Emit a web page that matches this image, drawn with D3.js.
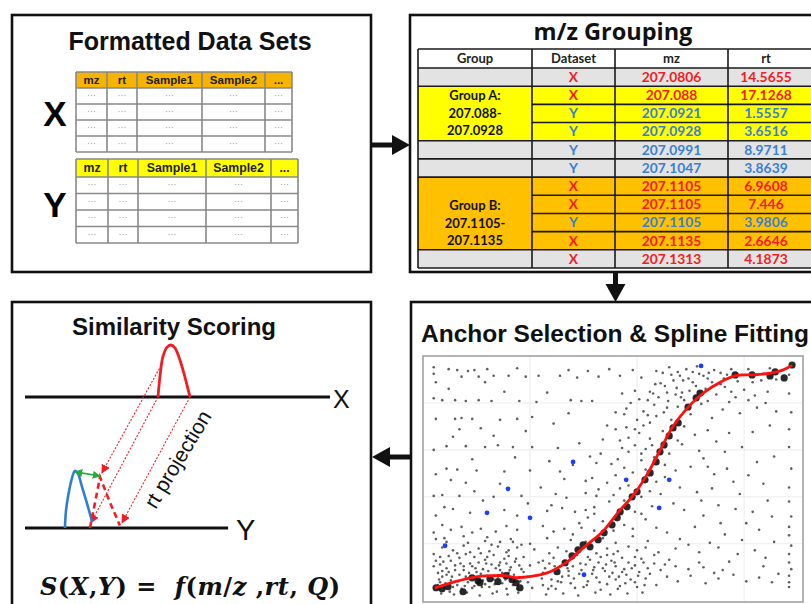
<!DOCTYPE html>
<html>
<head>
<meta charset="utf-8">
<script src="https://cdn.jsdelivr.net/npm/d3@7.9.0/dist/d3.min.js"></script>
<style>
  body { margin: 0; background: #fff; }
  svg { display: block; }
</style>
</head>
<body>
<div id="chart"></div>
<script>
// ---------- data ----------
const fmtColumns = ['mz', 'rt', 'Sample1', 'Sample2', '...'];
const fmtRowCount = 4;

const groupHeaders = ['Group', 'Dataset', 'mz', 'rt'];
const groupDataset = ['X', 'X', 'Y', 'Y', 'Y', 'Y', 'X', 'X', 'Y', 'X', 'X'];
const groupMz = ['207.0806', '207.088', '207.0921', '207.0928', '207.0991', '207.1047',
  '207.1105', '207.1105', '207.1105', '207.1135', '207.1313'];
const groupRt = ['14.5655', '17.1268', '1.5557', '3.6516', '8.9711', '3.8639',
  '6.9608', '7.446', '3.9806', '2.6646', '4.1873'];
const groupBand = ['', 'A', 'A', 'A', '', '', 'B', 'B', 'B', 'B', ''];
const groupALabel = ['Group A:', '207.088-', '207.0928'];
const groupBLabel = ['Group B:', '207.1105-', '207.1135'];

// anchor / spline panel (rt of X vs rt of Y)
const splineKnots = [
  [0.55, 0.3], [1.4, 0.9], [2.4, 1.45], [3.2, 1.6], [3.85, 1.6], [4.35, 1.4], [5.8, 1.9],
  [6.75, 3.1], [7.55, 4.7], [8.35, 6.2], [9.1, 8.3], [9.9, 10.4], [10.5, 12.5], [11.15, 15.3],
  [11.65, 17.4], [12.25, 19.2], [12.85, 20.6], [13.5, 21.7], [14.6, 22.9], [15.5, 23.0],
  [16.3, 23.2], [16.8, 23.5], [17.24, 24.0]
];
const anchorPoints = [
  [0.61, 0.32], [0.89, 0.21], [1.17, 0.43], [1.87, -0.11], [2.29, 1.38], [2.57, 1.06], [3.13, 1.28],
  [3.5, 0.96], [3.88, 1.6], [4.16, 1.17], [4.35, 0.85], [4.53, 0.32], [2.66, 0.85], [6.26, 2.02],
  [6.64, 2.98], [6.96, 3.72], [7.24, 4.36], [7.48, 4.89], [7.8, 4.68], [8.18, 5.43], [8.46, 6.17],
  [8.83, 7.02], [9.07, 7.77], [9.21, 8.4], [9.53, 8.94], [9.77, 10.0], [10.0, 10.53], [10.37, 11.81],
  [10.61, 12.55], [10.89, 13.72], [11.07, 14.79], [11.26, 15.53], [11.5, 16.49], [11.68, 17.34],
  [11.92, 17.87], [12.38, 19.57], [12.76, 20.53], [12.94, 21.06], [14.58, 22.98], [15.37, 22.98],
  [16.21, 22.87], [16.45, 23.3], [16.87, 22.66], [17.24, 24.04]
];
const outlierPoints = [
  [12.99, 23.94], [7.01, 13.72], [3.97, 10.85], [2.99, 8.3], [5.0, 7.77], [9.49, 11.81],
  [11.5, 11.81], [11.03, 8.83], [1.03, 4.79], [7.52, 1.7]
];
const backgroundPoints = [
  [0.5, 23.8], [0.5, 23.1], [0.6, 22.2], [0.5, 20.5], [0.6, 18.3], [0.5, 15.0], [0.6, 12.4], [0.5, 10.1],
  [0.6, 8.0], [0.5, 6.2], [0.6, 5.5], [0.5, 3.9], [0.6, 3.2], [0.5, 2.6], [0.7, 1.9],
  [1.2, 23.6], [1.6, 23.5], [2.1, 23.4], [2.4, 23.5], [3.0, 23.6], [3.3, 22.9], [1.8, 22.8], [2.6, 22.8],
  [4.0, 22.9], [4.8, 22.8], [5.4, 22.9], [4.4, 23.7], [2.9, 22.2],
  [0.9, 20.3], [1.5, 20.3], [2.0, 20.2], [2.6, 20.3], [3.2, 20.2], [4.5, 20.2], [5.3, 20.1], [6.9, 20.3],
  [7.4, 20.2], [7.9, 20.2],
  [1.5, 18.3], [1.8, 18.4], [2.3, 18.3], [3.6, 18.2], [4.4, 18.3], [5.1, 18.5],
  [1.7, 17.2], [3.3, 16.5], [1.1, 15.4], [2.0, 15.4], [2.9, 15.3], [3.5, 15.5], [4.2, 15.3], [5.1, 15.3],
  [6.3, 15.2], [7.3, 15.7],
  [1.1, 13.0], [1.6, 12.9], [2.5, 12.8], [3.8, 12.7], [5.0, 12.8], [6.4, 12.7], [7.0, 13.4],
  [0.9, 10.2], [1.7, 10.1], [2.4, 10.6], [3.3, 10.0], [4.6, 10.1], [6.2, 10.3], [6.7, 9.9], [7.6, 10.4],
  [8.1, 10.1],
  [1.0, 8.9], [1.4, 8.7], [2.2, 8.3], [3.8, 8.6], [4.4, 8.0], [5.8, 8.5], [6.5, 8.8], [7.1, 8.4],
  [7.6, 8.6], [8.0, 8.2], [6.0, 9.1],
  [0.9, 7.0], [1.3, 6.5], [1.8, 6.8], [2.3, 6.2], [2.7, 6.6], [3.4, 6.3], [3.9, 6.9], [4.4, 6.5],
  [5.6, 6.9], [6.1, 6.3], [6.6, 6.6], [7.0, 6.0], [7.4, 6.7], [8.0, 6.4], [1.0, 5.6], [1.9, 5.8],
  [3.0, 5.7], [4.1, 5.5], [5.8, 5.6], [6.9, 5.4],
  [0.9, 4.6], [1.4, 4.3], [1.9, 4.8], [2.2, 4.1], [2.6, 4.5], [3.1, 4.2], [3.5, 4.7], [4.0, 4.3],
  [4.4, 4.6], [5.2, 4.4], [5.9, 4.0], [6.3, 4.6], [6.7, 4.2], [8.1, 4.0], [8.6, 4.5], [9.1, 4.2],
  [9.6, 4.7], [10.0, 4.3], [1.2, 3.7], [1.7, 3.5], [2.4, 3.6], [2.9, 3.3], [3.3, 3.8], [3.8, 3.4],
  [4.7, 3.6], [5.6, 3.2], [6.1, 3.5], [7.8, 3.3], [8.3, 3.6], [8.8, 3.2], [9.3, 3.5], [10.2, 3.4],
  [10.8, 3.8], [11.5, 3.3],
  [0.8, 2.8], [1.1, 2.4], [1.5, 2.7], [1.9, 2.2], [2.3, 2.6], [2.8, 2.3], [3.2, 2.8], [3.6, 2.2],
  [4.1, 2.5], [4.6, 2.3], [5.0, 2.7], [5.7, 2.4], [6.2, 2.2], [7.0, 2.6], [7.4, 2.2], [8.0, 2.5],
  [8.5, 2.1], [9.0, 2.6], [9.4, 2.3], [9.9, 2.7], [10.5, 2.4], [11.1, 2.2], [11.8, 2.6], [12.4, 2.3],
  [13.1, 2.5], [14.0, 2.2],
  [0.9, 1.5], [1.3, 1.1], [1.7, 1.7], [2.1, 0.9], [2.5, 1.3], [2.9, 0.7], [3.3, 1.2], [3.7, 0.8],
  [4.0, 1.9], [4.5, 1.4], [4.9, 0.9], [5.3, 1.6], [5.6, 0.6], [6.0, 1.2], [6.5, 1.5], [6.9, 0.8],
  [7.3, 1.8], [7.7, 1.0], [8.1, 1.4], [8.6, 0.7], [9.0, 1.2], [9.5, 1.7], [9.9, 0.9], [10.4, 1.3],
  [10.9, 0.6], [11.4, 1.5], [11.9, 1.0], [12.5, 1.6], [13.2, 0.8], [13.8, 1.3], [14.5, 1.7], [15.1, 1.0],
  [15.7, 1.4], [16.3, 0.9], [1.4, 0.4], [2.3, 0.3], [3.9, 0.2], [5.1, 0.3], [6.2, 0.2], [7.5, 0.4],
  [8.3, 0.1],
  [0.8, 0.9], [1.0, 0.3], [1.6, 0.6], [2.0, 1.5], [2.7, 1.8], [3.1, 0.4], [3.5, 1.5], [4.2, 0.6],
  [4.7, 2.0], [1.2, 2.0], [2.6, 3.0], [3.9, 2.9], [5.4, 3.0], [6.6, 3.0], [7.2, 3.8], [5.0, 5.0],
  [2.1, 5.1], [3.6, 5.2], [4.6, 4.9], [7.6, 5.2], [8.4, 5.6], [9.0, 5.1], [9.8, 5.8], [10.5, 5.3],
  [10.9, 6.7], [10.4, 7.6], [9.9, 8.4], [9.4, 9.6], [10.7, 9.0], [11.1, 10.3],
  [7.3, 7.2], [7.7, 7.8], [8.0, 8.9], [8.4, 7.4], [8.7, 9.5], [8.2, 10.8], [8.6, 11.5], [9.0, 12.3],
  [8.9, 10.2], [9.4, 13.1], [9.1, 14.0], [9.6, 14.8], [8.8, 13.5], [7.9, 12.0], [8.3, 14.6], [9.8, 12.6],
  [10.2, 13.9], [9.9, 15.5], [10.1, 16.8], [9.5, 17.4], [10.4, 15.1], [10.0, 18.2], [10.6, 17.9],
  [10.3, 19.1], [9.7, 20.0], [10.8, 19.8],
  [10.6, 21.2], [11.0, 20.6], [11.3, 21.8], [11.7, 22.4], [11.2, 23.2], [12.0, 22.9], [12.3, 23.6],
  [12.6, 22.2], [12.9, 23.1], [13.3, 22.6], [13.6, 23.5], [13.9, 22.0], [14.2, 23.0], [14.7, 22.3],
  [15.2, 23.6], [15.8, 22.4], [16.2, 23.7], [10.9, 23.4], [10.2, 22.7], [9.8, 23.5], [9.2, 22.9],
  [8.7, 23.6], [8.2, 22.8], [7.7, 23.4], [7.2, 22.7], [6.8, 23.5], [6.4, 22.9], [12.1, 21.1], [12.8, 20.5],
  [13.2, 21.5], [13.7, 20.9], [14.1, 21.7], [14.6, 20.6], [15.0, 21.4], [15.5, 20.8], [16.1, 21.2],
  [11.9, 19.6], [12.5, 18.8], [13.0, 19.9], [13.5, 18.4], [14.0, 19.3], [14.8, 18.9], [15.6, 19.5],
  [11.6, 18.2], [12.2, 17.5], [12.7, 16.6], [13.3, 17.1], [14.3, 16.8], [12.1, 15.6], [12.9, 14.9],
  [11.3, 13.4], [11.8, 12.8], [12.5, 13.2], [13.6, 12.4], [12.0, 11.0], [12.8, 10.5], [13.5, 10.9],
  [14.5, 11.6], [15.2, 12.3], [15.9, 11.4], [11.7, 9.3], [12.2, 8.6], [13.1, 8.0], [13.8, 9.1],
  [14.6, 8.7], [15.4, 8.4], [16.3, 7.9],
  [11.4, 6.2], [12.0, 5.5], [12.7, 6.8], [13.4, 5.1], [14.1, 6.0], [14.9, 5.4], [15.7, 6.5], [16.4, 5.2],
  [11.8, 4.5], [12.9, 4.1], [13.8, 4.6], [14.7, 3.9], [15.5, 4.3], [16.0, 3.5],
  [17.1, 23.0], [17.1, 21.0], [17.2, 19.0], [17.1, 17.2], [17.1, 15.3], [17.2, 13.0], [17.1, 11.0],
  [17.1, 9.5], [17.2, 7.9], [17.1, 6.8], [17.1, 5.9], [17.2, 4.8], [17.1, 3.9], [17.1, 3.0], [17.2, 2.3],
  [17.1, 1.6], [17.1, 0.9], [17.1, 0.4],
  [0.7, 0.6], [1.1, 1.7], [1.5, 2.2], [1.8, 0.2], [2.2, 2.9], [2.4, 0.5], [2.8, 1.1], [3.0, 3.6],
  [3.4, 2.4], [3.7, 1.9], [4.1, 1.2], [4.3, 3.1], [4.4, 0.2], [1.3, 3.2], [1.6, 4.0], [2.0, 3.9],
  [2.7, 4.0], [3.2, 4.9], [3.9, 4.1], [4.2, 5.2], [1.1, 5.2], [0.8, 3.6], [1.9, 2.6], [2.5, 2.0],
  [3.0, 1.6], [3.6, 3.0], [4.0, 3.7], [4.5, 2.7], [0.9, 2.1], [2.9, 5.3],
  [5.6, 1.9], [5.9, 2.9], [6.3, 1.0], [6.4, 2.6], [6.8, 1.6], [7.1, 0.3], [7.6, 2.8], [7.9, 1.8],
  [8.2, 3.0], [8.4, 2.4], [8.7, 1.5], [8.9, 3.9], [9.2, 0.5], [9.3, 2.0], [9.6, 3.0], [9.7, 1.2],
  [10.1, 2.0], [10.3, 3.0], [10.6, 1.8], [10.8, 2.9], [6.0, 0.5], [6.8, 2.1], [7.7, 3.6], [8.6, 3.8],
  [9.9, 3.6], [10.4, 4.6], [11.0, 4.1], [11.3, 2.8], [9.1, 0.2], [10.0, 0.4],
  [8.9, 6.4], [9.4, 7.0], [9.8, 6.6], [10.2, 8.2], [10.6, 10.6], [10.9, 11.6], [11.3, 12.1], [9.6, 11.2],
  [9.2, 10.9], [10.4, 12.9], [10.8, 14.2], [11.5, 14.6], [11.9, 16.0], [10.6, 16.2], [11.2, 17.0],
  [10.9, 18.6], [11.4, 19.5], [11.8, 20.9], [10.5, 20.3], [9.9, 21.3], [9.3, 21.0], [9.0, 19.0],
  [8.6, 17.6], [8.4, 16.1], [9.2, 16.0], [9.4, 18.8], [10.2, 10.0], [8.1, 13.6], [7.6, 11.7], [7.8, 14.3],
  [11.5, 23.8], [11.9, 23.3], [12.4, 22.6], [12.8, 23.9], [13.1, 22.9], [13.5, 22.2], [13.9, 23.2],
  [14.4, 23.6], [14.9, 23.0], [15.4, 22.2], [15.9, 23.1], [16.5, 22.5], [12.2, 20.3], [13.3, 20.2],
  [14.3, 20.1], [15.2, 20.3], [16.0, 20.0], [16.5, 19.1], [16.2, 17.6], [15.4, 16.9], [14.9, 15.3],
  [14.1, 14.8], [13.7, 15.9], [13.1, 14.1],
  [13.3, 13.2], [14.2, 13.0], [15.6, 13.7], [16.4, 14.3], [14.8, 10.3], [16.1, 9.6], [13.0, 9.6],
  [15.1, 7.2], [13.9, 7.2], [12.4, 4.9], [14.3, 3.1], [15.9, 2.6], [16.6, 1.8], [12.9, 3.0], [13.6, 1.9],
  [1.3, 11.8], [2.0, 11.5], [2.8, 9.6], [3.6, 11.4], [4.9, 9.3], [5.5, 11.0], [6.6, 11.9], [5.9, 13.8],
  [4.3, 14.2], [2.3, 14.0], [1.4, 16.4], [2.7, 17.3], [4.8, 17.0], [6.1, 17.8], [6.8, 18.9], [5.8, 21.1],
  [3.8, 21.2], [1.2, 21.5],
  [0.75, 1.2], [1.05, 0.8], [1.35, 1.5], [1.65, 1.0], [1.95, 0.5], [2.15, 1.9], [2.45, 2.4], [2.75, 0.4],
  [3.05, 2.1], [3.35, 0.7], [3.55, 2.7], [3.85, 1.2], [4.05, 2.2], [4.25, 1.7], [4.55, 1.0], [0.85, -0.3],
  [1.45, -0.4], [2.05, -0.2], [2.65, -0.5], [3.25, -0.3], [3.95, -0.4], [4.45, -0.2], [1.75, 2.9],
  [2.95, 2.9], [4.35, 3.4], [0.95, 3.1], [1.25, -0.1], [3.45, -0.1],
  [5.55, 1.3], [5.85, 0.2], [6.15, 2.6], [6.45, 0.9], [6.75, 2.4], [7.05, 1.3], [7.35, 2.9], [7.65, 0.6],
  [7.95, 2.2], [8.25, 0.9], [8.55, 2.8], [8.85, 1.9], [9.15, 1.5], [9.45, 0.8], [9.75, 2.4], [10.05, 1.6],
  [10.35, 0.6], [5.75, -0.4], [6.55, -0.3], [7.25, -0.5], [8.05, -0.2], [8.75, -0.4], [9.55, -0.3],
  [10.25, -0.2], [6.95, 3.4], [8.95, 3.0],
  [11.1, 22.1], [11.4, 21.1], [11.6, 23.0], [11.85, 21.6], [12.15, 22.4], [12.45, 21.3], [12.6, 23.3],
  [12.05, 20.6], [11.45, 20.2], [12.75, 21.8], [13.05, 20.9], [13.35, 23.2], [13.7, 21.9], [14.05, 22.6],
  [14.4, 21.2], [10.85, 22.0], [11.25, 19.0], [10.75, 21.0],
  [9.3, 15.2], [9.6, 16.3], [9.9, 17.2], [10.3, 17.6], [10.5, 18.7], [10.1, 20.4], [9.5, 19.4],
  [9.0, 17.2], [10.7, 15.5], [10.2, 14.6]
];
const gridX = [5, 10, 15];
const gridY = [5, 10, 15, 20];

// similarity panel: peaks as [rt, relative intensity]
const peakX = [[4.36, 0], [4.43, 0.42], [4.52, 0.77], [4.66, 0.96], [4.79, 1.0], [4.92, 0.94],
  [5.08, 0.71], [5.25, 0.37], [5.41, 0]];
const peakY = [[1.31, 0], [1.34, 0.31], [1.41, 0.6], [1.54, 0.96], [1.64, 1.1], [1.74, 1.04],
  [1.87, 0.79], [2.03, 0.48], [2.2, 0.12]];
const projectedPeak = [[2.13, 0], [2.3, 0.5], [2.46, 0.98], [2.78, 0.5], [3.11, 0.05]];
// rt projection arrows: [rt on X, height on X, rt on Y, height on Y]
const projections = [[4.52, 0.67, 2.52, 1.06], [4.36, 0, 2.16, 0.1], [5.41, 0, 3.18, 0.1]];
const rtShift = [[1.64, 1.08], [2.46, 1.0]];
const rtExtentX = [0, 10];
const rtExtentY = [0, 6.66];
const formulaParts = [['S', 1], ['(', 0], ['X', 1], [',', 0], ['Y', 1], [') =  ', 0], ['f', 1],
  ['(', 0], ['m', 1], ['/', 0], ['z', 1], [' ,', 0], ['rt', 1], [', ', 0], ['Q', 1], [')', 0]];

// ---------- drawing ----------
const W = 811, H = 604;
const sans = "'Liberation Sans', Arial, sans-serif";
const calib = "Lato, 'Open Sans', sans-serif";
const red = '#f21c24', blue = '#3b80cf';

const svg = d3.select('#chart').append('svg')
  .attr('width', W).attr('height', H)
  .attr('viewBox', `0 0 ${W} ${H}`);

const defs = svg.append('defs');
defs.append('marker').attr('id', 'redHead')
  .attr('viewBox', '0 0 10 10').attr('refX', 9).attr('refY', 5)
  .attr('markerWidth', 9).attr('markerHeight', 9).attr('markerUnits', 'userSpaceOnUse')
  .attr('orient', 'auto-start-reverse')
  .append('path').attr('d', 'M0,0L10,5L0,10Z').attr('fill', red);
defs.append('marker').attr('id', 'greenHead')
  .attr('viewBox', '0 0 10 10').attr('refX', 9).attr('refY', 5)
  .attr('markerWidth', 8).attr('markerHeight', 8).attr('markerUnits', 'userSpaceOnUse')
  .attr('orient', 'auto-start-reverse')
  .append('path').attr('d', 'M0,0L10,5L0,10Z').attr('fill', '#1fae3c');

// panel frames
const frames = [
  { x: 12, y: 15, w: 359, h: 257 },
  { x: 410, y: 15, w: 420, h: 257 },
  { x: 12, y: 302, w: 359, h: 320 },
  { x: 411, y: 302, w: 420, h: 320 }
];
svg.append('g').selectAll('rect').data(frames).join('rect')
  .attr('x', (d) => d.x).attr('y', (d) => d.y)
  .attr('width', (d) => d.w).attr('height', (d) => d.h)
  .attr('fill', 'none').attr('stroke', '#111').attr('stroke-width', 2.6);

// flow arrows
function flowArrow(x1, y1, x2, y2) {
  const ang = Math.atan2(y2 - y1, x2 - x1);
  const headL = 18, headW = 10;
  const bx = x2 - headL * Math.cos(ang), by = y2 - headL * Math.sin(ang);
  svg.append('line').attr('x1', x1).attr('y1', y1).attr('x2', bx).attr('y2', by)
    .attr('stroke', '#111').attr('stroke-width', 5);
  const p = d3.path();
  p.moveTo(x2, y2);
  p.lineTo(bx + headW * Math.sin(ang), by - headW * Math.cos(ang));
  p.lineTo(bx - headW * Math.sin(ang), by + headW * Math.cos(ang));
  p.closePath();
  svg.append('path').attr('d', p.toString()).attr('fill', '#111');
}
flowArrow(372, 145, 410, 145);
flowArrow(615.5, 272, 615.5, 302);
flowArrow(411, 457, 372, 457);

// ---- panel 1: formatted data sets ----
const p1 = svg.append('g');
p1.append('text').attr('x', 190).attr('y', 50).attr('text-anchor', 'middle')
  .attr('font-family', sans).attr('font-weight', 'bold').attr('font-size', 25)
  .attr('fill', '#111').text('Formatted Data Sets');

const fmtTables = [
  { label: 'X', fill: '#f6b400', cols: [76, 107, 137, 202, 265, 292], top: 72, headH: 16, rowH: 16, labelY: 126, fs: 11.5 },
  { label: 'Y', fill: '#ffff00', cols: [76, 108, 138, 206, 271, 298], top: 159, headH: 18, rowH: 16.5, labelY: 217, fs: 12.3 }
];
fmtTables.forEach((t) => {
  const g = p1.append('g');
  const left = t.cols[0], right = t.cols[t.cols.length - 1];
  const bottom = t.top + t.headH + fmtRowCount * t.rowH;
  g.append('rect').attr('x', left).attr('y', t.top).attr('width', right - left).attr('height', t.headH)
    .attr('fill', t.fill);
  const hLines = [t.top, t.top + t.headH].concat(d3.range(1, fmtRowCount + 1).map((i) => t.top + t.headH + i * t.rowH));
  g.selectAll('.h').data(hLines).join('line')
    .attr('x1', left).attr('x2', right).attr('y1', (d) => d).attr('y2', (d) => d)
    .attr('stroke', '#888').attr('stroke-width', 1.6);
  g.selectAll('.v').data(t.cols).join('line')
    .attr('x1', (d) => d).attr('x2', (d) => d).attr('y1', t.top).attr('y2', bottom)
    .attr('stroke', '#888').attr('stroke-width', 1.6);
  g.selectAll('.head').data(fmtColumns).join('text')
    .attr('x', (d, i) => (t.cols[i] + t.cols[i + 1]) / 2)
    .attr('y', t.top + t.headH / 2 + t.fs * 0.36)
    .attr('text-anchor', 'middle').attr('font-family', sans).attr('font-weight', 'bold')
    .attr('font-size', t.fs).attr('fill', '#222').text((d) => d);
  const cells = [];
  d3.range(fmtRowCount).forEach((r) => fmtColumns.forEach((c, i) => cells.push({ r, i })));
  g.selectAll('.cell').data(cells).join('text')
    .attr('x', (d) => (t.cols[d.i] + t.cols[d.i + 1]) / 2)
    .attr('y', (d) => t.top + t.headH + (d.r + 0.5) * t.rowH + 2)
    .attr('text-anchor', 'middle').attr('font-family', sans).attr('font-size', 9)
    .attr('fill', '#999').text('\u00b7\u00b7\u00b7');
  p1.append('text').attr('x', 55).attr('y', t.labelY).attr('text-anchor', 'middle')
    .attr('font-family', sans).attr('font-weight', 'bold').attr('font-size', 35).text(t.label);
});

// ---- panel 2: m/z grouping ----
const p2 = svg.append('g');
p2.append('text').attr('x', 613).attr('y', 40).attr('text-anchor', 'middle')
  .attr('font-family', "'Open Sans', sans-serif").attr('font-weight', 'bold').attr('font-size', 23.5)
  .attr('fill', '#111').text('m/z Grouping');

const gCols = [418, 532, 615, 728, 814];
const gTextX = [475, 573.5, 671.5, 766];
const headTop = 49;
const rowY = d3.scaleBand().domain(d3.range(groupMz.length)).range([68, 268]);
const bandFill = { '': '#e3e3e3', A: '#ffff00', B: '#ffc000' };

p2.append('rect').attr('x', gCols[0]).attr('y', headTop).attr('width', gCols[4] - gCols[0])
  .attr('height', rowY.range()[0] - headTop).attr('fill', '#fff');
// data cells
p2.selectAll('.rowfill').data(groupMz).join('rect')
  .attr('x', gCols[1]).attr('y', (d, i) => rowY(i))
  .attr('width', gCols[4] - gCols[1]).attr('height', rowY.bandwidth())
  .attr('fill', (d, i) => bandFill[groupBand[i]]);
// group column cells (merged for groups)
const groupBlocks = [];
groupBand.forEach((b, i) => {
  const last = groupBlocks[groupBlocks.length - 1];
  if (b && last && last.band === b) last.end = i;
  else groupBlocks.push({ band: b, start: i, end: i });
});
p2.selectAll('.gcell').data(groupBlocks).join('rect')
  .attr('x', gCols[0]).attr('y', (d) => rowY(d.start))
  .attr('width', gCols[1] - gCols[0])
  .attr('height', (d) => rowY(d.end) + rowY.bandwidth() - rowY(d.start))
  .attr('fill', (d) => bandFill[d.band]);
// grid lines
const lineStyle = (sel) => sel.attr('stroke', '#1a1a1a').attr('stroke-width', 1.6);
const rowEdges = d3.range(groupMz.length + 1).map((i) => rowY.range()[0] + i * rowY.step());
p2.selectAll('.rl').data(rowEdges).join('line')
  .attr('x1', gCols[1]).attr('x2', gCols[4]).attr('y1', (d) => d).attr('y2', (d) => d).call(lineStyle);
const groupEdges = [headTop, rowY.range()[0]];
groupBlocks.forEach((b) => groupEdges.push(rowY(b.end) + rowY.bandwidth()));
p2.selectAll('.gl').data(groupEdges).join('line')
  .attr('x1', gCols[0]).attr('x2', gCols[1]).attr('y1', (d) => d).attr('y2', (d) => d).call(lineStyle);
p2.append('line').attr('x1', gCols[1]).attr('x2', gCols[4]).attr('y1', headTop).attr('y2', headTop).call(lineStyle);
p2.selectAll('.vl').data(gCols.slice(0, 4)).join('line')
  .attr('x1', (d) => d).attr('x2', (d) => d).attr('y1', headTop).attr('y2', rowEdges[rowEdges.length - 1])
  .call(lineStyle);
// header text
p2.selectAll('.ht').data(groupHeaders).join('text')
  .attr('x', (d, i) => gTextX[i]).attr('y', 63)
  .attr('text-anchor', 'middle').attr('font-family', calib).attr('font-weight', 'bold')
  .attr('font-size', 13).attr('fill', '#222').text((d) => d);
// row texts
const rowText = (arr, col) => p2.selectAll(null).data(arr).join('text')
  .attr('x', gTextX[col]).attr('y', (d, i) => rowY(i) + rowY.bandwidth() / 2 + 4.8)
  .attr('text-anchor', 'middle').attr('font-family', calib).attr('font-weight', 'bold')
  .attr('font-size', 13.8).attr('fill', (d, i) => (groupDataset[i] === 'X' ? red : blue))
  .text((d) => d);
rowText(groupDataset, 1);
rowText(groupMz, 2);
rowText(groupRt, 3);
// group labels
[[groupALabel, 'A', 0], [groupBLabel, 'B', 10]].forEach(([lines, band, shift]) => {
  const blk = groupBlocks.find((b) => b.band === band);
  const cy = (rowY(blk.start) + rowY(blk.end) + rowY.bandwidth()) / 2 + shift;
  p2.selectAll(null).data(lines).join('text')
    .attr('x', gTextX[0]).attr('y', (d, i) => cy + (i - 1) * 17.5 + 4.5)
    .attr('text-anchor', 'middle').attr('font-family', calib).attr('font-weight', 'bold')
    .attr('font-size', 13).attr('fill', '#111').text((d) => d);
});

// ---- panel 4: anchor selection & spline fitting ----
const p4 = svg.append('g');
p4.append('text').attr('x', 421).attr('y', 342)
  .attr('font-family', sans).attr('font-weight', 'bold').attr('font-size', 24.5)
  .attr('fill', '#111').text('Anchor Selection & Spline Fitting');

const x = d3.scaleLinear().domain([0, 17.75]).range([423, 803]);
const y = d3.scaleLinear().domain([-1.2, 25]).range([602, 356]);

const plot = p4.append('g');
plot.selectAll('.gx').data(gridX).join('line')
  .attr('x1', (d) => x(d)).attr('x2', (d) => x(d)).attr('y1', y.range()[0]).attr('y2', y.range()[1])
  .attr('stroke', '#ececec').attr('stroke-width', 1);
plot.selectAll('.gy').data(gridY).join('line')
  .attr('x1', x.range()[0]).attr('x2', x.range()[1]).attr('y1', (d) => y(d)).attr('y2', (d) => y(d))
  .attr('stroke', '#ececec').attr('stroke-width', 1);
plot.append('rect').attr('x', x.range()[0]).attr('y', y.range()[1])
  .attr('width', x.range()[1] - x.range()[0]).attr('height', y.range()[0] - y.range()[1])
  .attr('fill', 'none').attr('stroke', '#a0a0a0').attr('stroke-width', 1.6);

plot.append('g').selectAll('circle').data(backgroundPoints).join('circle')
  .attr('cx', (d) => x(d[0])).attr('cy', (d) => y(d[1])).attr('r', 1.3)
  .attr('fill', '#2a2a2a').attr('opacity', 0.75);
plot.append('g').selectAll('circle').data(outlierPoints).join('circle')
  .attr('cx', (d) => x(d[0])).attr('cy', (d) => y(d[1])).attr('r', 2.4)
  .attr('fill', '#1f3dff');
plot.append('g').selectAll('circle').data(anchorPoints).join('circle')
  .attr('cx', (d) => x(d[0])).attr('cy', (d) => y(d[1])).attr('r', 3.6)
  .attr('fill', '#111').attr('opacity', 0.9);
plot.append('path').datum(splineKnots)
  .attr('d', d3.line().x((d) => x(d[0])).y((d) => y(d[1])).curve(d3.curveCatmullRom))
  .attr('fill', 'none').attr('stroke', '#ff1010').attr('stroke-width', 2.8);

// ---- panel 3: similarity scoring ----
const p3 = svg.append('g');
p3.append('text').attr('x', 174).attr('y', 335).attr('text-anchor', 'middle')
  .attr('font-family', sans).attr('font-weight', 'bold').attr('font-size', 24)
  .attr('fill', '#111').text('Similarity Scoring');

const rt = d3.scaleLinear().domain([0, 10]).range([25, 330]);
const ht = d3.scaleLinear().domain([0, 1]).range([0, 52]);
const baseX = 397, baseY = 528;

p3.append('line').attr('x1', rt(rtExtentX[0])).attr('x2', rt(rtExtentX[1]))
  .attr('y1', baseX).attr('y2', baseX).attr('stroke', '#111').attr('stroke-width', 3.2);
p3.append('line').attr('x1', rt(rtExtentY[0])).attr('x2', rt(rtExtentY[1]))
  .attr('y1', baseY).attr('y2', baseY).attr('stroke', '#111').attr('stroke-width', 3.2);
p3.append('text').attr('x', 333).attr('y', 408).attr('font-family', sans)
  .attr('font-size', 25).attr('fill', '#111').text('X');
p3.append('text').attr('x', 236).attr('y', 540).attr('font-family', sans)
  .attr('font-size', 29).attr('fill', '#111').text('Y');

const peakLine = (base) => d3.line().x((d) => rt(d[0])).y((d) => base - ht(d[1]));

// projection arrows
p3.selectAll('.proj').data(projections).join('line')
  .attr('x1', (d) => rt(d[0])).attr('y1', (d) => baseX - ht(d[1]))
  .attr('x2', (d) => rt(d[2])).attr('y2', (d) => baseY - ht(d[3]))
  .attr('stroke', red).attr('stroke-width', 1.1).attr('stroke-dasharray', '2,1.6')
  .attr('marker-end', 'url(#redHead)');

p3.append('path').datum(peakX).attr('d', peakLine(baseX).curve(d3.curveCatmullRom))
  .attr('fill', 'none').attr('stroke', red).attr('stroke-width', 2.8);
p3.append('path').datum(peakY).attr('d', peakLine(baseY).curve(d3.curveCatmullRom))
  .attr('fill', 'none').attr('stroke', '#2f7fd0').attr('stroke-width', 2.6);
p3.append('path').datum(projectedPeak).attr('d', peakLine(baseY))
  .attr('fill', 'none').attr('stroke', red).attr('stroke-width', 2.6).attr('stroke-dasharray', '6,4');
p3.append('line').attr('x1', rt(rtShift[0][0])).attr('y1', baseY - ht(rtShift[0][1]))
  .attr('x2', rt(rtShift[1][0])).attr('y2', baseY - ht(rtShift[1][1]))
  .attr('stroke', '#1fae3c').attr('stroke-width', 1.6)
  .attr('marker-start', 'url(#greenHead)').attr('marker-end', 'url(#greenHead)');

p3.append('text').attr('transform', 'translate(184,463) rotate(-59)')
  .attr('text-anchor', 'middle').attr('font-family', sans).attr('font-size', 21)
  .attr('fill', '#111').text('rt projection');

const formula = p3.append('text').attr('x', 40).attr('y', 595)
  .attr('font-family', "'DejaVu Serif', 'Liberation Serif', serif").attr('font-weight', 'bold')
  .attr('font-size', 24).attr('fill', '#111')
  .attr('textLength', 300).attr('lengthAdjust', 'spacing');
formula.selectAll('tspan').data(formulaParts).join('tspan')
  .attr('font-style', (d) => (d[1] ? 'italic' : 'normal'))
  .style('white-space', 'pre').text((d) => d[0]);
</script>
</body>
</html>
